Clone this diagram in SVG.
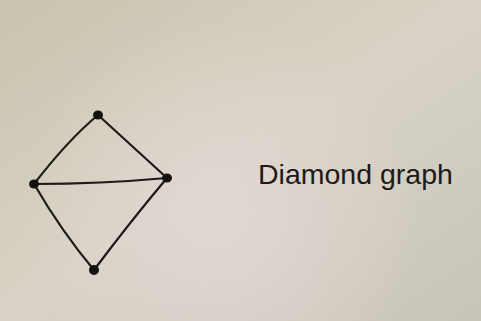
<svg xmlns="http://www.w3.org/2000/svg" width="481" height="321" viewBox="0 0 481 321">
<defs>
<linearGradient id="paper" x1="0" y1="0" x2="1" y2="1">
<stop offset="0" stop-color="#c8c4ae"/>
<stop offset="0.5" stop-color="#d8d3c6"/>
<stop offset="1" stop-color="#c9c4ba"/>
</linearGradient>
<radialGradient id="glow" cx="220" cy="220" r="200" gradientUnits="userSpaceOnUse">
<stop offset="0" stop-color="#e3d8d4" stop-opacity="0.9"/>
<stop offset="1" stop-color="#e3d8d4" stop-opacity="0"/>
</radialGradient>
<style>
.edge{fill:none;stroke:#1e1a17;stroke-width:2.2;stroke-linecap:round}
.node{fill:#141110}
.label{font-family:"Liberation Sans",sans-serif;font-size:28.5px;fill:#1e1a17}
</style>
</defs>
<rect width="481" height="321" fill="url(#paper)"/>
<rect width="481" height="321" fill="url(#glow)"/>
<g id="connectors">
<path class="edge" d="M98,115 Q68,140 34,184"/>
<path class="edge" d="M98,115 Q134,148 167,178"/>
<path class="edge" d="M34,184 Q100,184 167,178"/>
<path class="edge" d="M34,184 Q62,232 94,270"/>
<path class="edge" d="M167,178 Q130,222 94,270"/>
</g>
<g id="node-top"><ellipse class="node" cx="98" cy="115" rx="5" ry="4.5"/></g>
<g id="node-left"><ellipse class="node" cx="34" cy="184" rx="5" ry="4.5"/></g>
<g id="node-right"><ellipse class="node" cx="167" cy="178" rx="5" ry="4.5"/></g>
<g id="node-bottom"><ellipse class="node" cx="94" cy="270" rx="5" ry="5"/></g>
<text class="label" x="258" y="184">Diamond graph</text>
</svg>
